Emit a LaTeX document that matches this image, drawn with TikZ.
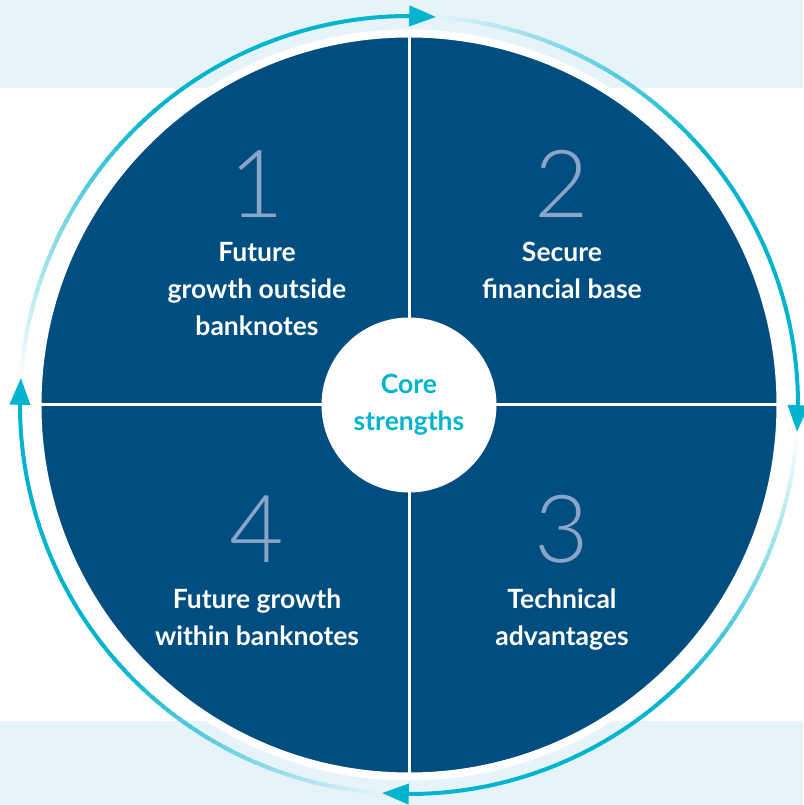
\documentclass[tikz,border=0pt]{standalone}
\usepackage{fontspec}
\setmainfont{Lato}
\newfontfamily\numfont{Lato Light}
\usetikzlibrary{arrows.meta,bending}
\definecolor{darkblue}{RGB}{0,77,128}
\definecolor{ringcyan}{RGB}{0,180,205}
\definecolor{bandblue}{RGB}{230,244,249}
\definecolor{numgray}{RGB}{138,165,200}
\begin{document}
\begin{tikzpicture}[x=1pt,y=1pt,
  qlabel/.style={text=white, font=\bfseries\fontsize{26.5}{37}\selectfont, align=center, anchor=base, inner sep=0},
  qnum/.style={text=numgray, font=\numfont\fontsize{94}{94}\selectfont, anchor=base, inner sep=0},
  ringline/.style={line width=4pt},
]
\useasboundingbox (-409,-400) rectangle (394,405);
\fill[white] (-409,-400) rectangle (394,405);
\fill[bandblue] (-409,317) rectangle (394,405);
\fill[bandblue] (-409,-316) rectangle (394,-400);

% main disc
\node[circle, inner sep=0, outer sep=0, minimum size=743pt, fill=darkblue, draw=white, line width=8pt] (disc) at (0,0) {};
\draw[white, line width=3pt] (disc.north) -- (disc.south);
\draw[white, line width=3pt] (disc.west) -- (disc.east);

% centre
\node[circle, inner sep=0, outer sep=0, minimum size=175pt, fill=white, text=ringcyan, font=\bfseries\fontsize{26.5}{37}\selectfont, align=center] (core) at (0,0) {Core\\strengths};

% numbers
\node[qnum] (n1) at (-152,187) {1};
\node[qnum] (n2) at (153,187) {2};
\node[qnum] (n3) at (153,-157) {3};
\node[qnum] (n4) at (-152,-157) {4};

% labels (base = baseline of the last line)
\node[qlabel] (l1) at (-152,69) {Future\\growth outside\\banknotes};
\node[qlabel] (l2) at (153,106) {Secure\\financial base};
\node[qlabel] (l3) at (153,-240) {Technical\\advantages};
\node[qlabel] (l4) at (-152,-240) {Future growth\\within banknotes};

% ring with fading arrows
\foreach \s in {0,1,2,3}{
  \pgfmathsetmacro{\qa}{176-90*\s}
  \foreach \k in {0,...,44}{
    \pgfmathsetmacro{\qb}{\qa-\k}
    \pgfmathsetmacro{\qe}{\qb-1.4}
    \pgfmathsetmacro{\qp}{(\k+0.5)/45*100}
    \pgfmathsetmacro{\qy}{abs(389*sin(\qb-0.5))}
    \ifdim\qy pt>317pt \def\qbg{bandblue}\else\def\qbg{white}\fi
    \draw[ringline, ringcyan!\qp!\qbg] (\qb:389pt) arc[start angle=\qb, end angle=\qe, radius=389pt];
  }
  \pgfmathsetmacro{\qc}{\qa-45}
  \pgfmathsetmacro{\qt}{\qa-90}
  \draw[ringline, ringcyan, -{Triangle[length=27pt,width=20pt,flex]}] (\qc:389pt) arc[start angle=\qc, end angle=\qt, radius=389pt];
}
\end{tikzpicture}
\end{document}
